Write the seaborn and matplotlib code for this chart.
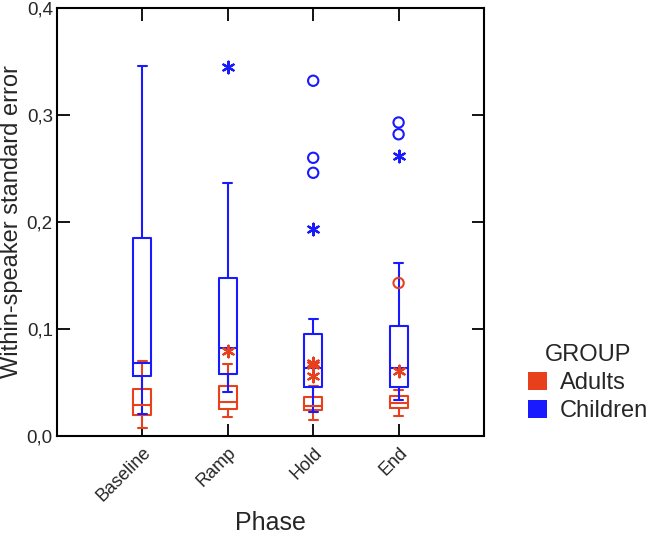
import numpy as np
import pandas as pd
import matplotlib.pyplot as plt
from matplotlib.patches import Patch
import seaborn as sns

sns.set_theme(style="ticks")
plt.rcParams['font.family'] = ['Liberation Sans', 'DejaVu Sans']

phases = ["Baseline", "Ramp", "Hold", "End"]
groups = ["Adults", "Children"]
cores = {"Adults": "#E8401C", "Children": "#1A1AFF"}

# resumo de cinco números por fase (bigode inferior, Q1, mediana, Q3, bigode superior)
adults_low = [0.0075, 0.018, 0.015, 0.019]
adults_q1 = [0.020, 0.025, 0.024, 0.026]
adults_med = [0.029, 0.032, 0.028, 0.031]
adults_q3 = [0.044, 0.047, 0.036, 0.037]
adults_high = [0.070, 0.067, 0.047, 0.043]

children_low = [0.021, 0.041, 0.022, 0.034]
children_q1 = [0.056, 0.058, 0.046, 0.046]
children_med = [0.068, 0.082, 0.064, 0.064]
children_q3 = [0.185, 0.148, 0.095, 0.103]
children_high = [0.346, 0.236, 0.109, 0.162]

# outliers: 'o' = atípico, '*' = extremo
out_group = ["Children", "Children", "Children", "Children", "Children",
             "Children", "Children", "Children",
             "Adults", "Adults", "Adults", "Adults", "Adults", "Adults"]
out_phase = ["Ramp", "Hold", "Hold", "Hold", "Hold", "End", "End", "End",
             "Ramp", "Hold", "Hold", "Hold", "End", "End"]
out_value = [0.345, 0.332, 0.260, 0.246, 0.193, 0.293, 0.282, 0.262,
             0.079, 0.068, 0.066, 0.056, 0.143, 0.061]
out_kind = ["*", "o", "o", "o", "*", "o", "o", "*",
            "*", "*", "*", "*", "o", "*"]

linhas = []
for g, cols in [("Adults", [adults_low, adults_q1, adults_med, adults_q3, adults_high]),
                ("Children", [children_low, children_q1, children_med, children_q3, children_high])]:
    for i, ph in enumerate(phases):
        for c in cols:
            linhas.append({"Phase": ph, "GROUP": g, "valor": c[i]})
df = pd.DataFrame(linhas)

outl = pd.DataFrame({"GROUP": out_group, "Phase": out_phase,
                     "valor": out_value, "tipo": out_kind})
outl["pos"] = outl["Phase"].map({p: i for i, p in enumerate(phases)})

fig = plt.figure(figsize=(6.53, 5.34), dpi=100)
ax = fig.add_axes([57 / 653, 98 / 534, 427 / 653, 428 / 534])

sns.boxplot(data=df, x="Phase", y="valor", hue="GROUP", order=phases,
            hue_order=groups, palette=cores, dodge=False, fill=False,
            width=0.21, whis=(0, 100), linewidth=1.5, legend=False, ax=ax)

for g in groups:
    sub = outl[(outl["GROUP"] == g) & (outl["tipo"] == "o")]
    if len(sub):
        sns.scatterplot(x=sub["pos"], y=sub["valor"], marker="o", s=55,
                        facecolor="none", edgecolor=cores[g], linewidth=1.5,
                        ax=ax, zorder=5)
    sub = outl[(outl["GROUP"] == g) & (outl["tipo"] == "*")]
    if len(sub):
        sns.scatterplot(x=sub["pos"], y=sub["valor"], marker=(6, 2, 0), s=70,
                        color=cores[g], linewidth=1.6, ax=ax, zorder=5)

ax.set_xlim(-1, 4)
ax.set_ylim(0, 0.4)
ax.set_yticks([0, 0.1, 0.2, 0.3, 0.4])
ax.set_yticklabels(["0,0", "0,1", "0,2", "0,3", "0,4"])
ax.set_xticks(range(len(phases)))
ax.set_xticklabels(phases, rotation=45, ha="right", rotation_mode="anchor")
ax.tick_params(axis="both", direction="in", length=9, width=1.3,
               top=True, right=True, color="black")
ax.tick_params(axis="y", labelsize=13.5, pad=3)
ax.tick_params(axis="x", labelsize=13, pad=6)
for s in ax.spines.values():
    s.set_visible(True)
    s.set_color("black")
    s.set_linewidth(1.5)

ax.set_xlabel("Phase", fontsize=18, labelpad=4)
ax.set_ylabel("Within-speaker standard error", fontsize=17, labelpad=3)

handles = [Patch(facecolor=cores[g], edgecolor="none", label=g) for g in groups]
leg = fig.legend(handles=handles, title="GROUP", loc="center left",
                 bbox_to_anchor=(528 / 653, 1 - 383 / 534), frameon=False,
                 fontsize=17, title_fontsize=17, handlelength=0.8,
                 handleheight=0.8, handletextpad=0.55, labelspacing=0.25,
                 borderpad=0, borderaxespad=0)

fig.savefig("out.png", dpi=100)
